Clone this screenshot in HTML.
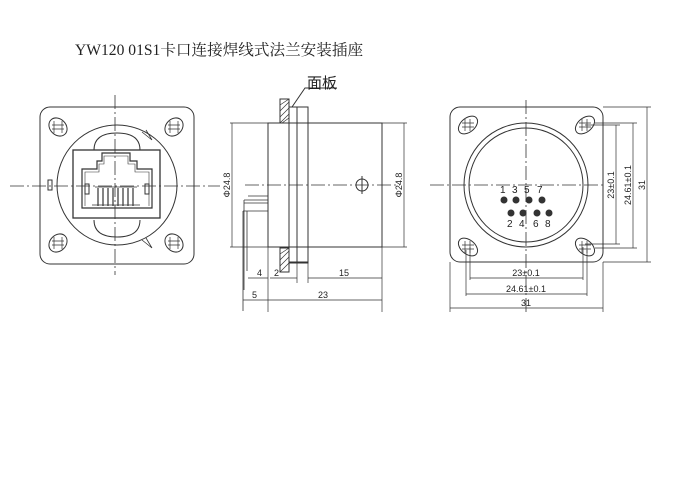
<!DOCTYPE html>
<html><head><meta charset="utf-8"><style>
html,body{margin:0;padding:0;background:#fff;}
svg{display:block;}
text{font-family:"Liberation Sans","Noto Sans CJK SC",sans-serif;fill:#222;}
</style></head><body>
<svg width="680" height="500" viewBox="0 0 680 500" xmlns="http://www.w3.org/2000/svg">
<text x="75" y="55" font-size="15.6" style="font-family:'Liberation Serif','Noto Serif CJK SC',serif">YW120 01S1卡口连接焊线式法兰安装插座</text>
<g stroke="#333" stroke-width="1" fill="none">
<rect x="40" y="107" width="154" height="157" rx="10"/>
<circle cx="117" cy="185" r="60"/>
<path d="M94 150 Q94 133 117 133 Q140 133 140 150 M94 220 Q94 237 117 237 Q140 237 140 220"/>
<g>
<ellipse cx="58" cy="127" rx="10" ry="8" transform="rotate(45 58 127)"/>
<ellipse cx="174" cy="127" rx="10" ry="8" transform="rotate(-45 174 127)"/>
<ellipse cx="58" cy="243" rx="10" ry="8" transform="rotate(-45 58 243)"/>
<ellipse cx="174" cy="243" rx="10" ry="8" transform="rotate(45 174 243)"/>
<path d="M54 121v12M62 121v12M52 125h12M52 129h12" stroke-width="0.7"/>
<path d="M170 121v12M178 121v12M168 125h12M168 129h12" stroke-width="0.7"/>
<path d="M54 237v12M62 237v12M52 241h12M52 245h12" stroke-width="0.7"/>
<path d="M170 237v12M178 237v12M168 241h12M168 245h12" stroke-width="0.7"/>
</g>
<path d="M142 132l10 8M146 130l6 10" stroke-width="0.8"/>
<path d="M142 240l10 8M146 238l6 10" stroke-width="0.8"/>
<rect x="48" y="180" width="4" height="10"/>
<rect x="73" y="150" width="87" height="68" stroke-width="1.3"/>
<path d="M82 208V169h15v-8h5v-8h28v8h7v8h15v39z" stroke-width="1.2"/>
<path d="M85 206V172h14v-8h5v-8h24v8h7v8h14v34" stroke-width="0.6"/>
<rect x="85" y="184" width="4" height="10"/><rect x="145" y="184" width="4" height="10"/>
<g stroke-width="1.2"><path d="M98 188v18M103 188v18M108 188v18M113 188v18M118 188v18M123 188v18M128 188v18M133 188v18"/></g>
<path d="M95 187h42M92 205h48" stroke-width="0.7"/>
<path d="M115 95v180M10 186h210" stroke-dasharray="14 3 2 3" stroke-width="0.8"/>
<rect x="268" y="123" width="114" height="124"/>
<rect x="289" y="107" width="19" height="156"/>
<path d="M297 107v156M289 262h19"/>
<rect x="280" y="99" width="9" height="24"/>
<rect x="280" y="248" width="9" height="24"/>
<path d="M280 105l9-6M280 111l9-9M280 117l9-9M280 123l9-9M282 123l7-5M280 254l9-6M280 260l9-9M280 266l9-9M280 272l9-9" stroke-width="0.7"/>
<path d="M292 107l13-19h32"/>
<path d="M248 196h20M244 200v90M244 200h24M244 203h24M243 211h25M243 211v100M247 211v60" stroke-width="0.8"/>
<path d="M245 185h155" stroke-dasharray="14 3 2 3" stroke-width="0.8"/>
<circle cx="362" cy="185" r="6"/><path d="M362 176v18"/>
<path d="M230 123h38M230 247h38M232 123v124M382 123h25M382 247h25M404 123v124" stroke-width="0.7"/>
<path d="M268 247v65M382 247v65M308 263v20M297 263v20" stroke-width="0.7"/>
<path d="M248 278h20M270 278h27M308 278h74M243 300h25M268 300h114" stroke-width="0.7"/>
<rect x="450" y="107" width="153" height="155" rx="10"/>
<circle cx="526" cy="185" r="62"/>
<circle cx="526" cy="185" r="57"/>
<ellipse cx="468" cy="125" rx="11" ry="7" transform="rotate(-40 468 125)"/>
<ellipse cx="585" cy="125" rx="11" ry="7" transform="rotate(-40 585 125)"/>
<ellipse cx="468" cy="247" rx="11" ry="7" transform="rotate(40 468 247)"/>
<ellipse cx="585" cy="247" rx="11" ry="7" transform="rotate(40 585 247)"/>
<path d="M465 119v12M470 119v12M462 123h12M462 127h12M582 119v12M587 119v12M579 123h12M579 127h12M465 241v12M470 241v12M462 245h12M462 249h12M582 241v12M587 241v12M579 245h12M579 249h12" stroke-width="0.7"/>
<path d="M526 100v215M430 185h175" stroke-dasharray="14 3 2 3" stroke-width="0.8"/>
<path d="M585 125h35M585 244h35M616 125v119M595 123h42M595 248h42M633 123v125M603 107h48M603 262h48M647 107v155" stroke-width="0.7"/>
<path d="M470 247v33M583 247v33M466 250v46M587 250v46M450 262v50M603 262v50M470 278h113M466 294h121M450 308h153" stroke-width="0.7"/>
</g>
<g fill="#333">
<circle cx="504" cy="200" r="3.5"/><circle cx="516" cy="200" r="3.5"/><circle cx="529" cy="200" r="3.5"/><circle cx="542" cy="200" r="3.5"/>
<circle cx="511" cy="213" r="3.5"/><circle cx="523" cy="213" r="3.5"/><circle cx="537" cy="213" r="3.5"/><circle cx="549" cy="213" r="3.5"/>
</g>
<g font-size="10">
<text x="500" y="193">1</text><text x="512" y="193">3</text><text x="524" y="193">5</text><text x="537" y="193">7</text>
<text x="507" y="227">2</text><text x="519" y="227">4</text><text x="533" y="227">6</text><text x="545" y="227">8</text>
<text x="307" y="88" font-size="15">面板</text>
</g>
<g font-size="9">
<text x="257" y="276">4</text><text x="274" y="276">2</text><text x="339" y="276">15</text>
<text x="252" y="298">5</text><text x="318" y="298">23</text>
<text transform="translate(230 185) rotate(-90)" text-anchor="middle">Φ24.8</text>
<text transform="translate(402 185) rotate(-90)" text-anchor="middle">Φ24.8</text>
<text x="526" y="276" text-anchor="middle">23±0.1</text>
<text x="526" y="292" text-anchor="middle">24.61±0.1</text>
<text x="526" y="306" text-anchor="middle">31</text>
<text transform="translate(614 185) rotate(-90)" text-anchor="middle">23±0.1</text>
<text transform="translate(631 185) rotate(-90)" text-anchor="middle">24.61±0.1</text>
<text transform="translate(645 185) rotate(-90)" text-anchor="middle">31</text>
</g>
</svg>
</body></html>
